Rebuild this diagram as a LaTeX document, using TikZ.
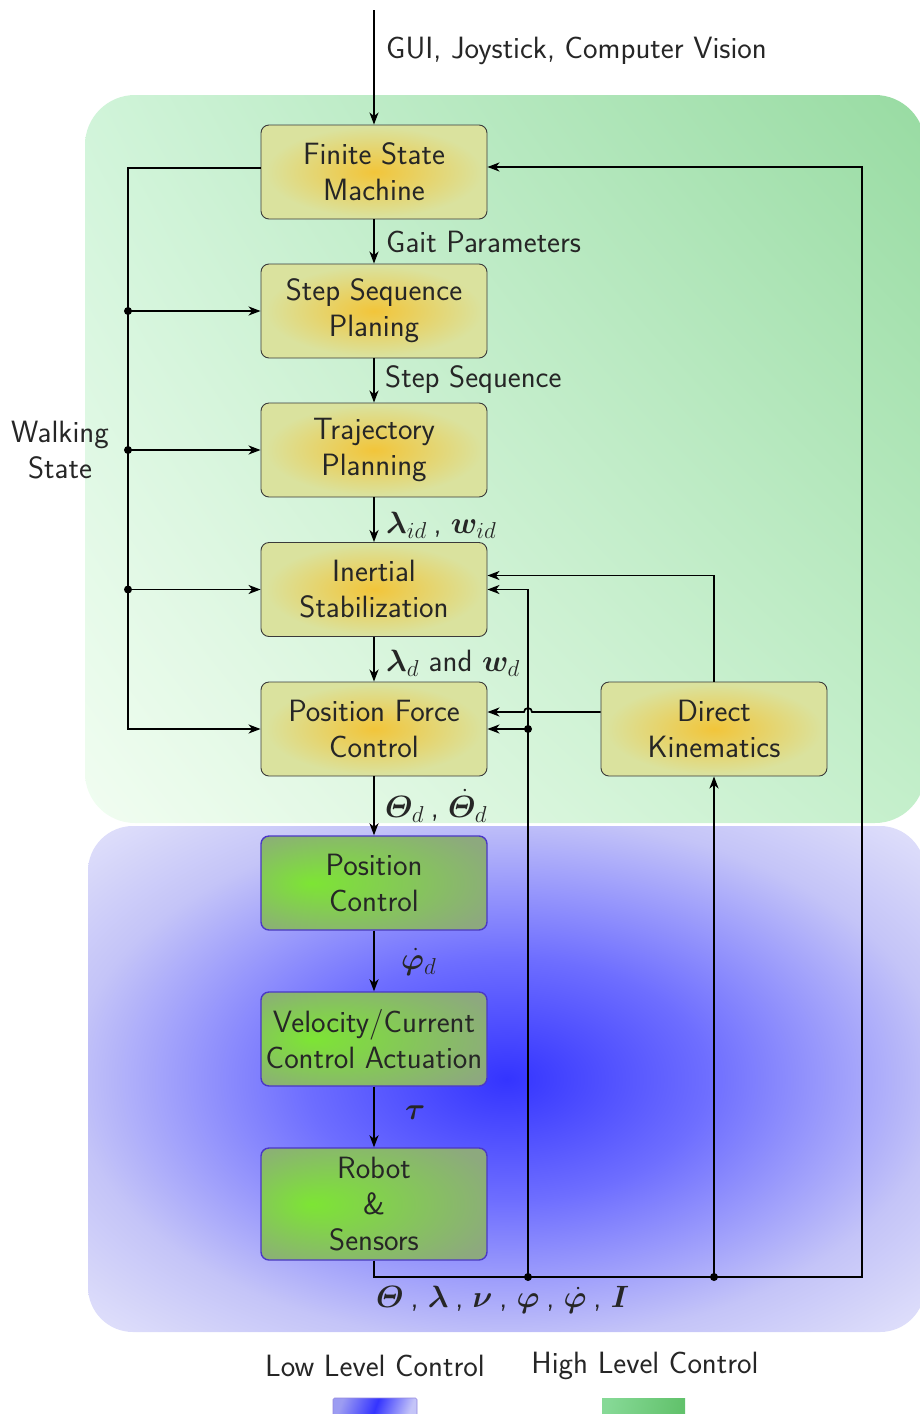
\RequirePackage{fix-cm}
\documentclass[tikz,border=0pt]{standalone}
\usepackage{amsmath,bm}
\usepackage{fontspec}
\usetikzlibrary{arrows.meta,shadings,calc}
\DeclareMathSizes{30.8}{30.8}{23}{18}

% palette
\definecolor{txt}{HTML}{262626}
\definecolor{gUL}{HTML}{D0F4D9}
\definecolor{gUR}{HTML}{98DBA2}
\definecolor{gLL}{HTML}{F1FDF1}
\definecolor{gLR}{HTML}{C4EFCB}
\definecolor{bC}{HTML}{3434FF}
\definecolor{bM}{HTML}{6E6EFF}
\definecolor{bE}{HTML}{C4C4F8}
\definecolor{bO}{HTML}{EAEAFB}
\definecolor{yC}{HTML}{F2C53A}
\definecolor{yE}{HTML}{DAE29E}
\definecolor{gC}{HTML}{7DE534}
\definecolor{gE}{HTML}{8DA97E}
\definecolor{gBorder}{HTML}{4B38C6}
\definecolor{yBorder}{HTML}{3A3A3A}
\definecolor{legB1}{HTML}{9C9CF2}
\definecolor{legG1}{HTML}{86D996}
\definecolor{legG2}{HTML}{62C26C}

\pgfdeclareradialshading{bgblue}{\pgfpoint{0bp}{0bp}}{color(0bp)=(bC); color(12bp)=(bM); color(26bp)=(bE); color(38bp)=(bO); color(50bp)=(bO)}
\pgfdeclareradialshading{yglow}{\pgfpoint{0bp}{0bp}}{color(0bp)=(yC); color(24bp)=(yE); color(50bp)=(yE)}
\pgfdeclareradialshading{gglow}{\pgfpoint{-14bp}{0bp}}{color(0bp)=(gC); color(34bp)=(gE); color(50bp)=(gE)}

\tikzset{
  lbl/.style={font=\fontsize{30.8}{36}\selectfont\sffamily, text=txt, inner sep=0pt},
  basebox/.style={lbl, rounded corners=8pt, minimum width=226pt, align=center, inner sep=2pt},
  ybox/.style={basebox, shading=yglow, draw=yBorder, line width=0.9pt, minimum height=94pt},
  gbox/.style={basebox, shading=gglow, draw=gBorder, line width=1.4pt, minimum height=94pt},
  wire/.style={line width=1.7pt, draw=black},
  arr/.style={wire, -{Stealth[length=12pt,width=9pt,inset=3.5pt]}},
  dot/.style={fill=black}
}
\newcommand{\gapcomma}{\hspace{0.22em},\hspace{0.3em}}

\begin{document}
\begin{tikzpicture}[x=1pt,y=-1pt]
\useasboundingbox (0,0) rectangle (920,1414);

% control level regions
\shade[upper left=gUL, upper right=gUR, lower left=gLL, lower right=gLR, rounded corners=50pt]
  (85,95) rectangle (925,823);
\shade[shading=bgblue, rounded corners=45pt] (88,826) rectangle (925,1332);

% blocks
\node[ybox] (fsm) at (374,172) {Finite State\\Machine};
\node[ybox] (ssp) at (374,311) {Step Sequence\\Planing};
\node[ybox] (tp)  at (374,450) {Trajectory\\Planning};
\node[ybox] (is)  at (374,589.5) {Inertial\\Stabilization};
\node[ybox] (pfc) at (374,729) {Position Force\\Control};
\node[ybox] (dk)  at (714,729) {Direct\\Kinematics};
\node[gbox] (pc)  at (374,883) {Position\\Control};
\node[gbox] (vc)  at (374,1039) {Velocity/Current\\Control Actuation};
\node[gbox, minimum height=112pt] (rs) at (374,1204) {Robot\\\&\\Sensors};

% main chain
\coordinate (in) at (374,10);
\draw[arr] (in) -- (fsm);
\draw[arr] (fsm) -- (ssp);
\draw[arr] (ssp) -- (tp);
\draw[arr] (tp) -- (is);
\draw[arr] (is) -- (pfc);
\draw[arr] (pfc) -- (pc);
\draw[arr] (pc) -- (vc);
\draw[arr] (vc) -- (rs);

% signal labels
\node[lbl, anchor=west] (lgui) at (386,51) {GUI, Joystick, Computer Vision};
\node[lbl, anchor=west] (lgait) at (386,242) {Gait Parameters};
\node[lbl, anchor=west] (lstep) at (385,380) {Step Sequence};
\node[lbl, anchor=west] (lid) at (386,525) {$\bm{\lambda}_{id}$\gapcomma$\bm{w}_{id}$};
\node[lbl, anchor=west] (ld) at (386,663) {$\bm{\lambda}_{d}$ and $\bm{w}_{d}$};
\node[lbl, anchor=west] (lth) at (385,806) {$\bm{\varTheta}_{d}$\gapcomma$\dot{\bm{\varTheta}}_{d}$};
\node[lbl, anchor=west] (lphi) at (401,962) {$\dot{\bm{\varphi}}_{d}$};
\node[lbl, anchor=west] (ltau) at (405,1113) {$\bm{\tau}$};
\node[lbl, anchor=west] (lfb) at (376,1300) {$\bm{\varTheta}$\gapcomma$\bm{\lambda}$\gapcomma$\bm{\nu}$\gapcomma$\bm{\varphi}$\gapcomma$\dot{\bm{\varphi}}$\gapcomma$\bm{I}$};
\node[lbl, align=center] (lws) at (60,450) {Walking\\State};

% walking state bus
\coordinate (busX) at (128,0);
\draw[arr] ([yshift=4pt]fsm.west) -| (busX |- pfc.west) -- (pfc.west);
\foreach \b in {ssp,tp,is}{
  \fill[dot] (busX |- \b.west) circle[radius=4pt];
  \draw[arr] (busX |- \b.west) -- (\b.west);
}

% sensor feedback
\coordinate (fbR) at (862,1277);
\draw[arr] (rs.south) |- (fbR) |- ([yshift=5pt]fsm.east);
\coordinate (j1) at (528,1277);
\coordinate (j3) at (714,1277);
\coordinate (j2) at (j1 |- pfc.east);
\fill[dot] (j1) circle[radius=4pt];
\fill[dot] (j3) circle[radius=4pt];
\fill[dot] (j2) circle[radius=4pt];
\draw[arr] (j1) |- (is.east);
\draw[arr] (j2) -- (pfc.east);
\draw[arr] (j3) -- (dk.south);
\draw[arr] (dk.north) |- ([yshift=14pt]is.east);
\coordinate (dkout) at ([yshift=17pt]dk.west);
\coordinate (hop) at (j1 |- dkout);
\draw[arr] (dkout) -- ([xshift=4pt]hop) arc[start angle=0, end angle=180, radius=4pt] -- (pfc.east |- dkout);

% legend
\node[lbl] (lowtxt) at (375,1366) {Low Level Control};
\node[lbl] (hightxt) at (645,1366) {High Level Control};
\shade[left color=legB1, right color=bE, middle color=bC, shading angle=70, draw=gBorder!60, line width=0.6pt, rounded corners=1.5pt]
  (333,1398) rectangle (417,1420);
\shade[left color=legG1, right color=legG2, shading angle=80]
  (602,1398) rectangle (685,1420);
\end{tikzpicture}
\end{document}
